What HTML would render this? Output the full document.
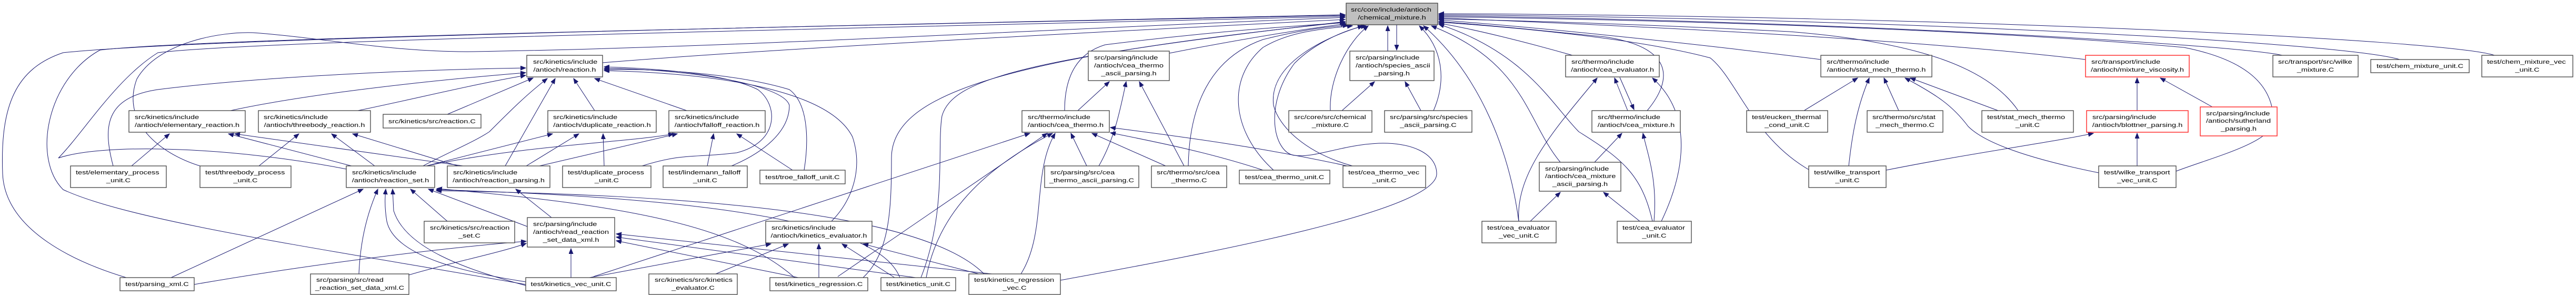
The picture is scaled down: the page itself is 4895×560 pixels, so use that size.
<!DOCTYPE html>
<html><head><meta charset="utf-8"><style>
html,body{margin:0;padding:0;background:#fff;}
svg{display:block;}
text{font-family:"Liberation Sans",sans-serif;font-size:10.8px;fill:#000;}
.e{fill:none;stroke:#191970;stroke-width:1;marker-end:url(#a);}
.n{fill:#fff;stroke:#404040;stroke-width:1.3;}
.r{fill:#fff;stroke:#ff3030;stroke-width:1.5;}
.g{fill:#bfbfbf;stroke:#404040;stroke-width:1.3;}
.m{text-anchor:middle;}
</style></head><body>
<svg width="4895" height="560" viewBox="0 0 4895 560" xmlns="http://www.w3.org/2000/svg">
<defs><marker id="a" markerUnits="userSpaceOnUse" markerWidth="11" markerHeight="9" refX="10" refY="4" orient="auto"><path d="M0,0 L10,4 L0,8 z" fill="#191970" stroke="#191970"/></marker></defs>
<g>
<!-- edges to chemical_mixture.h -->
<path class="e" d="M240,527 C150,500 10,440 5,330 C0,200 30,130 120,100 C400,70 1800,45 2556,28"/>
<path class="e" d="M999,540 C600,470 250,420 120,360 C60,300 90,150 190,95 C400,70 1800,45 2556,29"/>
<path class="e" d="M658,321 C450,280 200,270 111,300 C160,250 220,150 300,100 C500,75 1800,50 2556,31"/>
<path class="e" d="M380,315 C300,290 230,230 260,150 C300,80 420,60 480,62 C600,70 750,100 900,98 C1400,90 2000,55 2556,33"/>
<path class="e" d="M1145,119 C1500,90 2200,55 2556,37"/>
<path class="e" d="M1750,527 C1800,400 1780,280 1790,220 C1810,150 1950,110 2556,41"/>
<path class="e" d="M1640,527 C1690,480 1694,400 1694,300 C1694,180 1900,110 2556,42"/>
<path class="e" d="M2023,210 C2023,140 2050,100 2100,85 C2300,60 2450,50 2556,43"/>
<path class="e" d="M2222,101 C2380,70 2480,55 2558,45"/>
<path class="e" d="M2258,315 C2260,200 2300,110 2400,75 C2480,55 2530,50 2562,48"/>
<path class="e" d="M2420,323 C2340,250 2330,150 2400,90 C2450,60 2510,55 2570,49"/>
<path class="e" d="M2570,315 C2480,290 2430,240 2420,200 C2410,120 2520,70 2590,49"/>
<path class="e" d="M2015,532 C2300,480 2730,400 2730,330 C2730,290 2680,270 2620,272 C2550,275 2500,300 2460,295 C2420,290 2400,200 2460,120 C2500,80 2560,55 2596,49"/>
<path class="e" d="M2528,210 C2525,150 2560,80 2600,49"/>
<path class="e" d="M2637,97 L2637,49"/>
<path class="e" d="M2654,47 L2654,95"/>
<path class="e" d="M2724,210 C2750,150 2740,90 2697,49"/>
<path class="e" d="M2886,420 C2870,300 2820,150 2705,49"/>
<path class="e" d="M2965,308 C2900,230 2900,120 2720,49"/>
<path class="e" d="M3140,420 C3120,330 3080,300 3000,250 C2950,200 2900,100 2734,46"/>
<path class="e" d="M2988,105 C2900,80 2800,55 2734,44"/>
<path class="e" d="M3130,210 C3180,150 3180,90 3050,70 C2900,55 2800,45 2734,41"/>
<path class="e" d="M3460,113 C3200,80 2900,50 2734,38"/>
<path class="e" d="M3835,210 C3780,130 3650,80 3400,60 C3100,45 2850,38 2734,36"/>
<path class="e" d="M3437,322 C3330,260 3300,150 3250,110 C3100,70 2850,50 2734,42"/>
<path class="e" d="M3963,113 C3600,70 3000,45 2734,34"/>
<path class="e" d="M4135,325 C4200,300 4320,270 4320,230 C4320,150 4250,110 4150,90 C3700,50 3000,35 2734,32"/>
<path class="e" d="M4337,105 C4250,85 3500,40 2734,30"/>
<path class="e" d="M4560,113 C4450,80 3600,35 2734,28"/>
<path class="e" d="M4740,105 C4650,75 3700,30 2734,26"/>
<!-- reaction.h -->
<path class="e" d="M215,315 C195,240 200,185 300,170 C500,145 800,132 999,129"/>
<path class="e" d="M438,210 C600,175 850,150 999,138"/>
<path class="e" d="M680,210 C800,185 900,160 999,143"/>
<path class="e" d="M850,217 L1013,148"/>
<path class="e" d="M804,315 C850,290 900,270 930,250 C970,210 1000,180 1040,149"/>
<path class="e" d="M960,315 L1055,149"/>
<path class="e" d="M1130,210 L1090,149"/>
<path class="e" d="M1305,210 L1130,149"/>
<path class="e" d="M1220,315 C1300,290 1320,300 1400,290 C1480,270 1480,200 1440,170 C1380,140 1250,130 1148,127"/>
<path class="e" d="M1390,315 C1450,290 1500,250 1500,200 C1490,160 1300,130 1148,130"/>
<path class="e" d="M1528,323 C1535,280 1540,200 1500,170 C1400,140 1250,130 1148,132"/>
<path class="e" d="M1580,420 C1620,380 1640,320 1620,260 C1580,180 1400,140 1148,134"/>
<!-- elementary / threebody -->
<path class="e" d="M250,315 L322,254"/>
<path class="e" d="M668,315 L434,254"/>
<path class="e" d="M880,315 L446,254"/>
<path class="e" d="M492,315 L568,254"/>
<path class="e" d="M712,315 L630,254"/>
<path class="e" d="M870,315 L670,254"/>
<!-- duplicate / falloff -->
<path class="e" d="M810,315 L1050,254"/>
<path class="e" d="M1000,315 L1100,254"/>
<path class="e" d="M1148,315 L1146,254"/>
<path class="e" d="M810,315 C1000,275 1200,270 1280,254"/>
<path class="e" d="M1025,315 L1287,254"/>
<path class="e" d="M1344,315 L1356,254"/>
<path class="e" d="M1506,323 L1400,254"/>
<!-- reaction_parsing -->
<path class="e" d="M1048,413 L980,359"/>
<!-- reaction_set.h -->
<path class="e" d="M325,527 L690,359"/>
<path class="e" d="M682,520 C685,450 700,400 718,359"/>
<path class="e" d="M999,535 C900,520 750,490 735,420 C730,390 732,370 733,359"/>
<path class="e" d="M999,542 C880,510 770,470 748,400 L746,359"/>
<path class="e" d="M850,420 L780,359"/>
<path class="e" d="M1002,430 L814,359"/>
<path class="e" d="M1510,527 C1400,430 1200,390 830,358"/>
<path class="e" d="M1710,527 C1680,450 1500,380 829,360"/>
<path class="e" d="M1870,520 C1750,400 1300,370 829,362"/>
<!-- read_reaction_set_data_xml.h -->
<path class="e" d="M777,522 C850,500 950,480 1000,462"/>
<path class="e" d="M369,540 C600,500 850,470 1000,458"/>
<path class="e" d="M1085,527 L1085,472"/>
<path class="e" d="M1517,527 L1171,457"/>
<path class="e" d="M1740,527 L1171,450"/>
<path class="e" d="M1885,520 L1171,444"/>
<!-- kinetics_evaluator.h -->
<path class="e" d="M1120,527 L1465,463"/>
<path class="e" d="M1360,520 L1498,463"/>
<path class="e" d="M1556,527 L1556,463"/>
<path class="e" d="M1700,527 L1600,463"/>
<path class="e" d="M1860,520 L1640,463"/>
<!-- cea_thermo.h -->
<path class="e" d="M1128,525 L1957,253"/>
<path class="e" d="M1592,525 L1990,253"/>
<path class="e" d="M1760,527 C1780,420 1850,330 2000,253"/>
<path class="e" d="M1940,520 C1990,440 1960,330 2005,253"/>
<path class="e" d="M2065,315 L2035,253"/>
<path class="e" d="M2215,315 L2075,253"/>
<path class="e" d="M2400,323 C2300,290 2200,270 2110,252"/>
<path class="e" d="M2560,315 C2400,280 2250,260 2110,242"/>
<!-- cea_thermo_ascii_parsing.h -->
<path class="e" d="M2048,210 L2108,155"/>
<path class="e" d="M2088,315 C2120,260 2130,200 2140,155"/>
<path class="e" d="M2250,315 L2165,155"/>
<!-- species ascii -->
<path class="e" d="M2550,210 L2612,155"/>
<path class="e" d="M2700,210 L2670,155"/>
<!-- cea_evaluator.h -->
<path class="e" d="M3093,210 L3068,148"/>
<path class="e" d="M3078,147 L3105,208"/>
<path class="e" d="M2886,420 C2880,330 2950,250 3035,148"/>
<path class="e" d="M3157,420 C3200,330 3220,220 3140,148"/>
<!-- cea_mixture.h -->
<path class="e" d="M3030,308 L3082,253"/>
<path class="e" d="M3143,420 C3150,340 3130,290 3122,253"/>
<!-- cea_mixture_ascii_parsing.h -->
<path class="e" d="M2908,420 L2965,365"/>
<path class="e" d="M3116,420 L3047,365"/>
<!-- stat_mech_thermo.h -->
<path class="e" d="M3428,210 L3530,148"/>
<path class="e" d="M3513,315 C3520,250 3530,200 3552,148"/>
<path class="e" d="M3608,210 L3580,148"/>
<path class="e" d="M3797,210 L3630,148"/>
<path class="e" d="M3988,328 C3850,300 3770,270 3740,240 C3710,200 3680,180 3620,148"/>
<!-- mixture viscosity / blottner -->
<path class="e" d="M4061,210 L4061,148"/>
<path class="e" d="M4204,203 L4105,148"/>
<path class="e" d="M4061,315 L4061,253"/>
<path class="e" d="M3584,323 C3750,290 3900,270 3978,253"/>
</g>
<!-- nodes -->
<g>
<rect class="g" x="2558" y="6" width="174" height="41"/>
<text transform="matrix(1.35 0 0 1 2567 22)">src/core/include/antioch</text>
<text class="m" transform="matrix(1.35 0 0 1 2645 37)">/chemical_mixture.h</text>

<rect class="n" x="245" y="210" width="221" height="41"/>
<text transform="matrix(1.35 0 0 1 256 226)">src/kinetics/include</text>
<text class="m" transform="matrix(1.35 0 0 1 355.5 241)">/antioch/elementary_reaction.h</text>

<rect class="n" x="491" y="210" width="213" height="41"/>
<text transform="matrix(1.35 0 0 1 501 226)">src/kinetics/include</text>
<text class="m" transform="matrix(1.35 0 0 1 597.5 241)">/antioch/threebody_reaction.h</text>

<rect class="n" x="728" y="217" width="186" height="26"/>
<text class="m" transform="matrix(1.35 0 0 1 821 234)">src/kinetics/src/reaction.C</text>

<rect class="n" x="134" y="315" width="182" height="41"/>
<text transform="matrix(1.35 0 0 1 144 331)">test/elementary_process</text>
<text class="m" transform="matrix(1.35 0 0 1 225 346)">_unit.C</text>

<rect class="n" x="380" y="315" width="173" height="41"/>
<text transform="matrix(1.35 0 0 1 390 331)">test/threebody_process</text>
<text class="m" transform="matrix(1.35 0 0 1 466.5 346)">_unit.C</text>

<rect class="n" x="658" y="315" width="168" height="41"/>
<text transform="matrix(1.35 0 0 1 669 331)">src/kinetics/include</text>
<text class="m" transform="matrix(1.35 0 0 1 742 346)">/antioch/reaction_set.h</text>

<rect class="n" x="228" y="527" width="141" height="25"/>
<text class="m" transform="matrix(1.35 0 0 1 298.5 543)">test/parsing_xml.C</text>

<rect class="n" x="590" y="520" width="187" height="39"/>
<text transform="matrix(1.35 0 0 1 601 535)">src/parsing/src/read</text>
<text class="m" transform="matrix(1.35 0 0 1 683.5 550)">_reaction_set_data_xml.C</text>

<rect class="n" x="1001" y="105" width="144" height="41"/>
<text transform="matrix(1.35 0 0 1 1013 121)">src/kinetics/include</text>
<text class="m" transform="matrix(1.35 0 0 1 1073 136)">/antioch/reaction.h</text>

<rect class="n" x="1041" y="210" width="206" height="41"/>
<text transform="matrix(1.35 0 0 1 1051 226)">src/kinetics/include</text>
<text class="m" transform="matrix(1.35 0 0 1 1144 241)">/antioch/duplicate_reaction.h</text>

<rect class="n" x="1271" y="210" width="183" height="41"/>
<text transform="matrix(1.35 0 0 1 1282 226)">src/kinetics/include</text>
<text class="m" transform="matrix(1.35 0 0 1 1362.5 241)">/antioch/falloff_reaction.h</text>

<rect class="n" x="850" y="315" width="195" height="41"/>
<text transform="matrix(1.35 0 0 1 861 331)">src/kinetics/include</text>
<text class="m" transform="matrix(1.35 0 0 1 947.5 346)">/antioch/reaction_parsing.h</text>

<rect class="n" x="1069" y="315" width="168" height="41"/>
<text transform="matrix(1.35 0 0 1 1079 331)">test/duplicate_process</text>
<text class="m" transform="matrix(1.35 0 0 1 1153 346)">_unit.C</text>

<rect class="n" x="1260" y="315" width="160" height="41"/>
<text transform="matrix(1.35 0 0 1 1270 331)">test/lindemann_falloff</text>
<text class="m" transform="matrix(1.35 0 0 1 1340 346)">_unit.C</text>

<rect class="n" x="1444" y="323" width="162" height="26"/>
<text class="m" transform="matrix(1.35 0 0 1 1525 340)">test/troe_falloff_unit.C</text>

<rect class="n" x="806" y="420" width="172" height="41"/>
<text transform="matrix(1.35 0 0 1 817 436)">src/kinetics/src/reaction</text>
<text class="m" transform="matrix(1.35 0 0 1 892 451)">_set.C</text>

<rect class="n" x="1002" y="413" width="166" height="56"/>
<text transform="matrix(1.35 0 0 1 1013 429)">src/parsing/include</text>
<text transform="matrix(1.35 0 0 1 1013 444)">/antioch/read_reaction</text>
<text class="m" transform="matrix(1.35 0 0 1 1085 459)">_set_data_xml.h</text>

<rect class="n" x="999" y="527" width="172" height="25"/>
<text class="m" transform="matrix(1.35 0 0 1 1085 543)">test/kinetics_vec_unit.C</text>

<rect class="n" x="1233" y="520" width="168" height="39"/>
<text transform="matrix(1.35 0 0 1 1244 535)">src/kinetics/src/kinetics</text>
<text class="m" transform="matrix(1.35 0 0 1 1317 550)">_evaluator.C</text>

<rect class="n" x="1455" y="420" width="202" height="41"/>
<text transform="matrix(1.35 0 0 1 1466 436)">src/kinetics/include</text>
<text class="m" transform="matrix(1.35 0 0 1 1556 451)">/antioch/kinetics_evaluator.h</text>

<rect class="n" x="1463" y="527" width="186" height="25"/>
<text class="m" transform="matrix(1.35 0 0 1 1556 543)">test/kinetics_regression.C</text>

<rect class="n" x="1674" y="527" width="142" height="25"/>
<text class="m" transform="matrix(1.35 0 0 1 1745 543)">test/kinetics_unit.C</text>

<rect class="n" x="1841" y="520" width="174" height="39"/>
<text transform="matrix(1.35 0 0 1 1851 535)">test/kinetics_regression</text>
<text class="m" transform="matrix(1.35 0 0 1 1928 550)">_vec.C</text>

<rect class="n" x="2068" y="97" width="154" height="56"/>
<text transform="matrix(1.35 0 0 1 2079 113)">src/parsing/include</text>
<text transform="matrix(1.35 0 0 1 2079 128)">/antioch/cea_thermo</text>
<text class="m" transform="matrix(1.35 0 0 1 2145 143)">_ascii_parsing.h</text>

<rect class="n" x="1942" y="210" width="166" height="41"/>
<text transform="matrix(1.35 0 0 1 1953 226)">src/thermo/include</text>
<text class="m" transform="matrix(1.35 0 0 1 2025 241)">/antioch/cea_thermo.h</text>

<rect class="n" x="1985" y="315" width="179" height="41"/>
<text transform="matrix(1.35 0 0 1 1996 331)">src/parsing/src/cea</text>
<text class="m" transform="matrix(1.35 0 0 1 2074.5 346)">_thermo_ascii_parsing.C</text>

<rect class="n" x="2188" y="315" width="143" height="41"/>
<text transform="matrix(1.35 0 0 1 2198 331)">src/thermo/src/cea</text>
<text class="m" transform="matrix(1.35 0 0 1 2259.5 346)">_thermo.C</text>

<rect class="n" x="2355" y="323" width="172" height="26"/>
<text class="m" transform="matrix(1.35 0 0 1 2441 340)">test/cea_thermo_unit.C</text>

<rect class="n" x="2565" y="97" width="160" height="56"/>
<text transform="matrix(1.35 0 0 1 2576 113)">src/parsing/include</text>
<text transform="matrix(1.35 0 0 1 2576 128)">/antioch/species_ascii</text>
<text class="m" transform="matrix(1.35 0 0 1 2645 143)">_parsing.h</text>

<rect class="n" x="2449" y="210" width="158" height="41"/>
<text transform="matrix(1.35 0 0 1 2459 226)">src/core/src/chemical</text>
<text class="m" transform="matrix(1.35 0 0 1 2528 241)">_mixture.C</text>

<rect class="n" x="2631" y="210" width="166" height="41"/>
<text transform="matrix(1.35 0 0 1 2641 226)">src/parsing/src/species</text>
<text class="m" transform="matrix(1.35 0 0 1 2714 241)">_ascii_parsing.C</text>

<rect class="n" x="2552" y="315" width="157" height="41"/>
<text transform="matrix(1.35 0 0 1 2562 331)">test/cea_thermo_vec</text>
<text class="m" transform="matrix(1.35 0 0 1 2630.5 346)">_unit.C</text>

<rect class="n" x="2975" y="105" width="178" height="41"/>
<text transform="matrix(1.35 0 0 1 2986 121)">src/thermo/include</text>
<text class="m" transform="matrix(1.35 0 0 1 3064 136)">/antioch/cea_evaluator.h</text>

<rect class="n" x="3025" y="210" width="168" height="41"/>
<text transform="matrix(1.35 0 0 1 3036 226)">src/thermo/include</text>
<text class="m" transform="matrix(1.35 0 0 1 3109 241)">/antioch/cea_mixture.h</text>

<rect class="n" x="2925" y="308" width="155" height="55"/>
<text transform="matrix(1.35 0 0 1 2936 324)">src/parsing/include</text>
<text transform="matrix(1.35 0 0 1 2936 338)">/antioch/cea_mixture</text>
<text class="m" transform="matrix(1.35 0 0 1 3002.5 353)">_ascii_parsing.h</text>

<rect class="n" x="2816" y="420" width="141" height="41"/>
<text transform="matrix(1.35 0 0 1 2826 436)">test/cea_evaluator</text>
<text class="m" transform="matrix(1.35 0 0 1 2886.5 451)">_vec_unit.C</text>

<rect class="n" x="3073" y="420" width="141" height="41"/>
<text transform="matrix(1.35 0 0 1 3083 436)">test/cea_evaluator</text>
<text class="m" transform="matrix(1.35 0 0 1 3143.5 451)">_unit.C</text>

<rect class="n" x="3460" y="105" width="211" height="41"/>
<text transform="matrix(1.35 0 0 1 3471 121)">src/thermo/include</text>
<text class="m" transform="matrix(1.35 0 0 1 3565.5 136)">/antioch/stat_mech_thermo.h</text>

<rect class="n" x="3319" y="210" width="154" height="41"/>
<text transform="matrix(1.35 0 0 1 3329 226)">test/eucken_thermal</text>
<text class="m" transform="matrix(1.35 0 0 1 3396 241)">_cond_unit.C</text>

<rect class="n" x="3548" y="210" width="144" height="41"/>
<text transform="matrix(1.35 0 0 1 3558 226)">src/thermo/src/stat</text>
<text class="m" transform="matrix(1.35 0 0 1 3620 241)">_mech_thermo.C</text>

<rect class="n" x="3766" y="210" width="174" height="41"/>
<text transform="matrix(1.35 0 0 1 3776 226)">test/stat_mech_thermo</text>
<text class="m" transform="matrix(1.35 0 0 1 3853 241)">_unit.C</text>

<rect class="n" x="3437" y="315" width="147" height="41"/>
<text transform="matrix(1.35 0 0 1 3447 331)">test/wilke_transport</text>
<text class="m" transform="matrix(1.35 0 0 1 3510.5 346)">_unit.C</text>

<rect class="r" x="3963" y="105" width="197" height="41"/>
<text transform="matrix(1.35 0 0 1 3974 121)">src/transport/include</text>
<text class="m" transform="matrix(1.35 0 0 1 4061.5 136)">/antioch/mixture_viscosity.h</text>

<rect class="r" x="3965" y="210" width="193" height="41"/>
<text transform="matrix(1.35 0 0 1 3976 226)">src/parsing/include</text>
<text class="m" transform="matrix(1.35 0 0 1 4061.5 241)">/antioch/blottner_parsing.h</text>

<rect class="n" x="3988" y="315" width="147" height="41"/>
<text transform="matrix(1.35 0 0 1 3998 331)">test/wilke_transport</text>
<text class="m" transform="matrix(1.35 0 0 1 4061.5 346)">_vec_unit.C</text>

<rect class="r" x="4181" y="203" width="146" height="55"/>
<text transform="matrix(1.35 0 0 1 4192 219)">src/parsing/include</text>
<text transform="matrix(1.35 0 0 1 4192 233)">/antioch/sutherland</text>
<text class="m" transform="matrix(1.35 0 0 1 4254 248)">_parsing.h</text>

<rect class="n" x="4319" y="105" width="162" height="41"/>
<text transform="matrix(1.35 0 0 1 4329 121)">src/transport/src/wilke</text>
<text class="m" transform="matrix(1.35 0 0 1 4400 136)">_mixture.C</text>

<rect class="n" x="4505" y="113" width="187" height="25"/>
<text class="m" transform="matrix(1.35 0 0 1 4598.5 129)">test/chem_mixture_unit.C</text>

<rect class="n" x="4716" y="105" width="173" height="41"/>
<text transform="matrix(1.35 0 0 1 4726 121)">test/chem_mixture_vec</text>
<text class="m" transform="matrix(1.35 0 0 1 4802.5 136)">_unit.C</text>
</g>
</svg>
</body></html>
